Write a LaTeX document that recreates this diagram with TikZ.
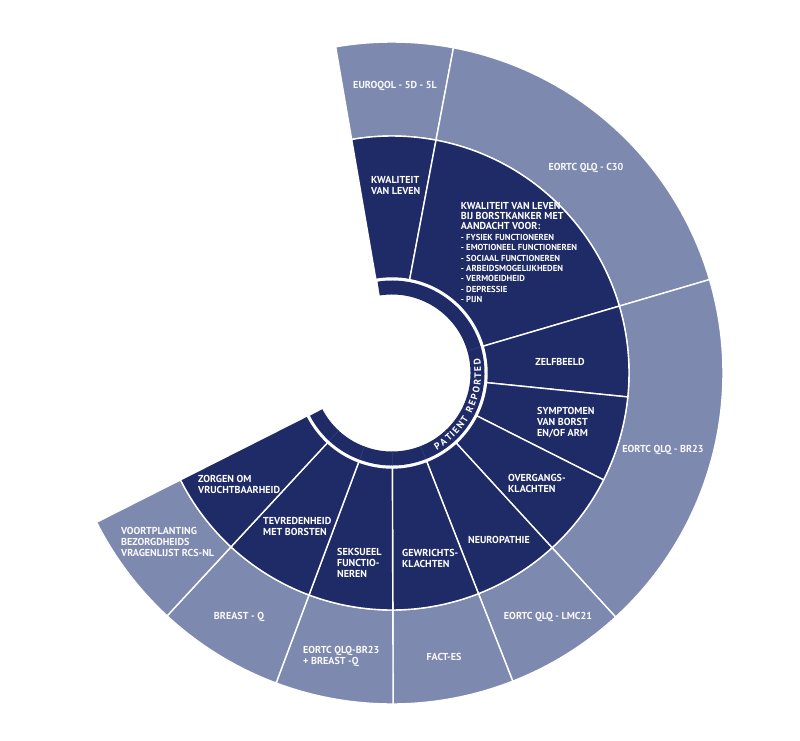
\documentclass[tikz,border=0pt]{standalone}
\usepackage{fontspec}
\setmainfont{PT Sans}
\definecolor{navy}{HTML}{1F2B66}
\definecolor{slate}{HTML}{7D89AE}
\definecolor{ringline}{HTML}{34407A}
\newcommand{\annsec}[5]{%
  \fill[#5] (#1:#3) arc[start angle=#1, end angle=#2, radius=#3] -- (#2:#4) arc[start angle=#2, end angle=#1, radius=#4] -- cycle;}
\newcommand{\mylistfont}{\fontsize{8.7}{10.4}\selectfont}
\begin{document}
\begin{tikzpicture}[x=1pt,y=1pt,
  darkseg/.style={fill=navy, draw=white, line width=1.4pt, line join=round},
  lightseg/.style={fill=slate, draw=white, line width=1.4pt, line join=round},
  lbl/.style={text=white, inner sep=0pt, font=\bfseries\fontsize{10.1}{10.9}\selectfont, align=left},
  olbl/.style={lbl, text=white!96!slate},
  ringtxt/.style={text=white, inner sep=0pt, font=\bfseries\fontsize{9.6}{10}\selectfont}]
\useasboundingbox (0,0) rectangle (800,-741);
\begin{scope}[shift={(392,-373)}]
  % outer ring
  \annsec{99.8}{79.3}{237}{331}{lightseg}
  \annsec{79.3}{16.4}{237}{331}{lightseg}
  \annsec{16.4}{-47.5}{237}{331}{lightseg}
  \annsec{-47.5}{-68.6}{237}{331}{lightseg}
  \annsec{-68.6}{-89.8}{237}{331}{lightseg}
  \annsec{-89.8}{-110.5}{237}{331}{lightseg}
  \annsec{-110.5}{-132.8}{237}{331}{lightseg}
  \annsec{-132.8}{-153.2}{237}{331}{lightseg}
  % inner ring
  \annsec{99.8}{79.3}{95}{237}{darkseg}
  \annsec{79.3}{16.4}{95}{237}{darkseg}
  \annsec{16.4}{-5.8}{95}{237}{darkseg}
  \annsec{-5.8}{-26.8}{95}{237}{darkseg}
  \annsec{-26.8}{-47.5}{95}{237}{darkseg}
  \annsec{-47.5}{-68.6}{95}{237}{darkseg}
  \annsec{-68.6}{-89.8}{95}{237}{darkseg}
  \annsec{-89.8}{-110.5}{95}{237}{darkseg}
  \annsec{-110.5}{-132.8}{95}{237}{darkseg}
  \annsec{-132.8}{-153.2}{95}{237}{darkseg}
  % patient reported ring
  \annsec{99}{-152.5}{78.5}{92.5}{fill=navy}
  \foreach \a in {16.4,-5.8,-26.8,-47.5,-68.6,-89.8,-110.5,-132.8}
    \draw[ringline, line width=0.6pt] (\a:78.5) -- (\a:92.5);
  \foreach \a/\ch [count=\i] in {-58.03/P,-53.30/A,-48.73/T,-45.31/I,-41.93/E,-37.20/N,-32.42/T,
      -25.22/R,-20.76/E,-16.36/P,-11.35/O,-6.27/R,-1.77/T,2.46/E,7.19/D}
    \node[ringtxt, rotate=\a+90] (pr\i) at (\a:85.8) {\ch};
\end{scope}
% outer labels
\node[olbl] (euro) at (395,-86) {EUROQOL - 5D - 5L};
\node[olbl] (c30) at (586,-168) {EORTC QLQ - C30};
\node[olbl] (br23) at (663,-450) {EORTC QLQ - BR23};
\node[olbl] (lmc) at (548,-617) {EORTC QLQ - LMC21};
\node[olbl] (fact) at (444,-657) {FACT-ES};
\node[olbl, anchor=north west] (br23bq) at (303,-646) {EORTC QLQ-BR23\\+ BREAST -Q};
\node[olbl] (bq) at (239,-617) {BREAST - Q};
\node[olbl, anchor=north west] (voort) at (121,-527) {VOORTPLANTING\\BEZORGDHEIDS\\VRAGENLIJST RCS-NL};
% inner labels
\node[lbl, anchor=north west] (kwal) at (371,-176) {KWALITEIT\\VAN LEVEN};
\node[lbl, anchor=north west, font=\bfseries\fontsize{10.1}{10.4}\selectfont] (borst) at (460.7,-201.7)
  {KWALITEIT VAN LEVEN\\BIJ BORSTKANKER MET\\AANDACHT VOOR:\\
   {\mylistfont - FYSIEK FUNCTIONEREN}\\
   {\mylistfont - EMOTIONEEL FUNCTIONEREN}\\
   {\mylistfont - SOCIAAL FUNCTIONEREN}\\
   {\mylistfont - ARBEIDSMOGELIJKHEDEN}\\
   {\mylistfont - VERMOEIDHEID}\\
   {\mylistfont - DEPRESSIE}\\
   {\mylistfont - PIJN}};
\node[lbl] (zelf) at (560,-362) {ZELFBEELD};
\node[lbl, anchor=north west] (symp) at (537,-407) {SYMPTOMEN\\VAN BORST\\EN/OF ARM};
\node[lbl, anchor=north west] (overg) at (508,-474) {OVERGANGS-\\KLACHTEN};
\node[lbl] (neuro) at (499,-540) {NEUROPATHIE};
\node[lbl, anchor=north west] (gewr) at (402,-549) {GEWRICHTS-\\KLACHTEN};
\node[lbl, anchor=north west] (seks) at (337,-548) {SEKSUEEL\\FUNCTIO-\\NEREN};
\node[lbl, anchor=north west] (tevr) at (263,-517) {TEVREDENHEID\\MET BORSTEN};
\node[lbl, anchor=north west] (zorg) at (198,-475) {ZORGEN OM\\VRUCHTBAARHEID};
\end{tikzpicture}
\end{document}
